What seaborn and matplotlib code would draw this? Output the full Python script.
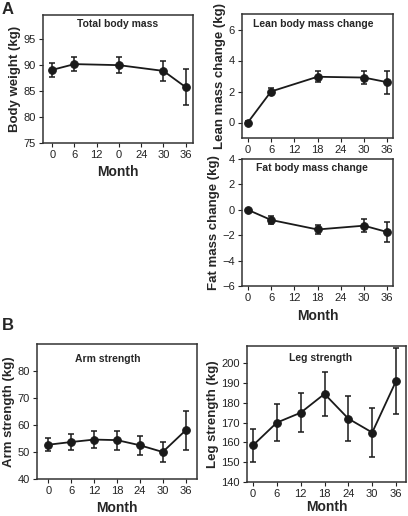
import numpy as np
import matplotlib
matplotlib.use("Agg")
import matplotlib.pyplot as plt
import seaborn as sns

# data
months_a = [0, 6, 18, 30, 36]
body_wt = [89.0, 90.1, 89.9, 88.8, 85.7]
body_wt_err = [1.3, 1.4, 1.5, 1.9, 3.5]
lean_chg = [0.0, 2.0, 2.95, 2.9, 2.6]
lean_err = [0.1, 0.2, 0.35, 0.4, 0.75]
fat_chg = [0.0, -0.8, -1.55, -1.25, -1.75]
fat_err = [0.1, 0.3, 0.35, 0.5, 0.8]

months_b = [0, 6, 12, 18, 24, 30, 36]
arm = [52.7, 53.7, 54.6, 54.4, 52.5, 50.0, 58.0]
arm_err = [2.5, 2.8, 3.2, 3.5, 3.6, 3.6, 7.3]
leg = [158.5, 170.0, 175.0, 184.5, 172.0, 165.0, 191.0]
leg_err = [8.5, 9.5, 9.8, 11.2, 11.3, 12.5, 16.7]

xticks = [0, 6, 12, 18, 24, 30, 36]
xticklabels_body = ["0", "6", "12", "0", "24", "30", "36"]  # as printed in the source

sns.set_style("ticks")
plt.rcParams['font.family'] = ['Liberation Sans', 'DejaVu Sans']

W, H = 408, 516
fig = plt.figure(figsize=(W / 100, H / 100), dpi=100)


def make_ax(x0, y0, x1, y1):
    return fig.add_axes([x0 / W, 1 - y1 / H, (x1 - x0) / W, (y1 - y0) / H])


def draw(ax, x, y, err, title, tx, ty, ylabel, ylim, yticks, xlim, xlabel=True,
         xlabels=None, xpad=4):
    sns.lineplot(x=x, y=y, ax=ax, color="#1a1a1a", marker="o", markersize=5.5,
                 markeredgecolor="#1a1a1a", linewidth=1.3)
    ax.errorbar(x, y, yerr=err, fmt="none", ecolor="#1a1a1a", elinewidth=1.1,
                capsize=2.2, capthick=1.1)
    ax.set_xlim(*xlim)
    ax.set_ylim(*ylim)
    ax.set_yticks(yticks)
    ax.set_xticks(xticks)
    ax.set_xticklabels(xlabels if xlabels else [str(t) for t in xticks])
    ax.tick_params(labelsize=8, length=3, width=0.8, colors="#222222", pad=2)
    for s in ax.spines.values():
        s.set_visible(True)
        s.set_linewidth(1.1)
        s.set_color("#333333")
    ax.text(tx, ty, title, transform=ax.transAxes, ha="center", va="center",
            fontsize=7.5, fontweight="bold")
    ax.set_ylabel(ylabel, fontsize=9.5, fontweight="bold", labelpad=2)
    if xlabel:
        ax.set_xlabel("Month", fontsize=10, fontweight="bold", labelpad=xpad)
    else:
        ax.set_xlabel("")


ax1 = make_ax(43, 15, 193, 143)
draw(ax1, months_a, body_wt, body_wt_err, "Total body mass", 0.5, 0.93, "Body weight (kg)",
     (75, 99.5), [75, 80, 85, 90, 95], (-2.5, 38), xlabels=xticklabels_body)

ax2 = make_ax(242, 14, 393, 138)
draw(ax2, months_a, lean_chg, lean_err, "Lean body mass change", 0.47, 0.92,
     "Lean mass change (kg)", (-1, 7), [0, 2, 4, 6], (-1.5, 37.5), xlabel=False)

ax3 = make_ax(242, 159, 393, 286)
draw(ax3, months_a, fat_chg, fat_err, "Fat body mass change", 0.46, 0.93,
     "Fat mass change (kg)", (-6, 4), [-6, -4, -2, 0, 2, 4], (-1.5, 37.5))
ax3.set_yticklabels(["\u22126", "\u22124", "\u22122", "0", "2", "4"])

ax4 = make_ax(37, 344, 197, 479)
draw(ax4, months_b, arm, arm_err, "Arm strength", 0.44, 0.89, "Arm strength (kg)",
     (40, 90), [40, 50, 60, 70, 80], (-3, 39))

ax5 = make_ax(247, 346, 406, 482)
draw(ax5, months_b, leg, leg_err, "Leg strength", 0.46, 0.91, "Leg strength (kg)",
     (140, 208.7), [140, 150, 160, 170, 180, 190, 200], (-1.5, 38.5), xpad=1)

fig.text(2 / W, 1 - 9 / H, "A", fontsize=12, fontweight="bold", va="center")
fig.text(2 / W, 1 - 325 / H, "B", fontsize=12, fontweight="bold", va="center")

fig.savefig("out.png", dpi=100)
